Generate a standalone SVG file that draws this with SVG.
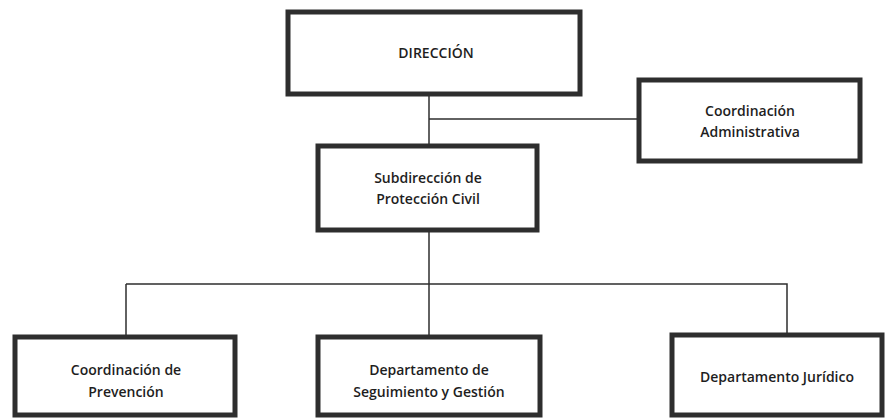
<svg xmlns="http://www.w3.org/2000/svg" width="887" height="419" viewBox="0 0 887 419">
<style>
.box{fill:#fff;stroke:#2e2e2e;stroke-width:5}
.t{font-family:"Open Sans","Liberation Sans",sans-serif;font-size:14px;font-weight:600;fill:#1e1e1e;text-anchor:middle}
.ln{fill:none;stroke:#2e2e2e;stroke-width:1.5}
</style>
<rect width="887" height="419" fill="#fff"/>
<g id="connectors">
<path class="ln" d="M429 96V144"/>
<path class="ln" d="M429 119H637"/>
<path class="ln" d="M429 232V335"/>
<path class="ln" d="M126 284H787V333"/>
<path class="ln" d="M126 284V335"/>
</g>
<g id="direccion">
<rect class="box" x="288" y="12" width="292" height="82"/>
<text class="t" x="436" y="58">DIRECCIÓN</text>
</g>
<g id="coord-admin">
<rect class="box" x="639" y="80" width="221" height="81"/>
<text class="t" x="750" y="116">Coordinación</text>
<text class="t" x="750" y="137">Administrativa</text>
</g>
<g id="subdireccion">
<rect class="box" x="318" y="146" width="219" height="84"/>
<text class="t" x="428" y="183">Subdirección de</text>
<text class="t" x="428" y="204">Protección Civil</text>
</g>
<g id="coord-prevencion">
<rect class="box" x="15" y="337" width="220" height="78"/>
<text class="t" x="126" y="375">Coordinación de</text>
<text class="t" x="126" y="397">Prevención</text>
</g>
<g id="depto-seguimiento">
<rect class="box" x="318" y="337" width="222" height="78"/>
<text class="t" x="429" y="375">Departamento de</text>
<text class="t" x="429" y="397">Seguimiento y Gestión</text>
</g>
<g id="depto-juridico">
<rect class="box" x="672" y="335" width="210" height="80"/>
<text class="t" x="777" y="382">Departamento Jurídico</text>
</g>
</svg>
